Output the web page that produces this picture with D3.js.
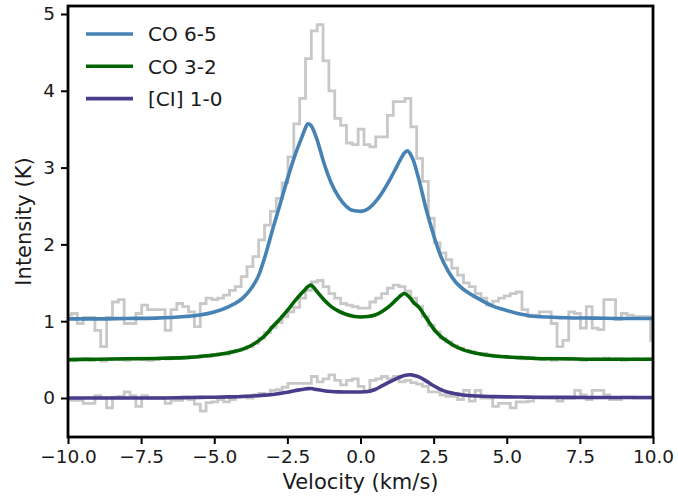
<!DOCTYPE html>
<html>
<head>
<meta charset="utf-8">
<script src="https://cdn.jsdelivr.net/npm/d3@7/dist/d3.min.js"></script>
<style>
  body { margin: 0; background: #fff; }
  text { font-family: "DejaVu Sans", sans-serif; fill: #1a1a1a; }
</style>
</head>
<body>
<svg id="chart" width="678" height="499"></svg>
<script>
// observed spectra, 0.2 km/s channels, first channel centre at -9.98 km/s
const chanStart = -9.98
const chanWidth = 0.2

const co65Obs = [
  1.08,1.10,0.97,1.05,1.05,0.88,0.67,1.05,1.25,1.28,
  0.97,0.97,1.10,1.21,1.15,1.15,1.15,0.88,1.15,1.23,
  1.19,1.12,0.93,1.23,1.30,1.28,1.30,1.34,1.40,1.45,
  1.58,1.71,1.84,2.06,2.25,2.43,2.60,2.80,3.14,3.57,
  3.90,4.42,4.78,4.86,4.39,4.00,3.64,3.55,3.32,3.30,
  3.50,3.30,3.27,3.40,3.40,3.68,3.86,3.86,3.90,3.53,
  3.12,2.82,2.34,2.02,1.89,1.80,1.69,1.60,1.50,1.45,
  1.36,1.30,1.21,1.26,1.30,1.33,1.36,1.38,1.15,1.06,
  1.08,1.12,1.12,0.97,0.67,0.75,1.12,1.10,0.91,1.19,
  0.91,0.89,1.28,1.28,1.02,1.10,1.08,1.06,1.06,1.06,
  0.75
]

const co32Obs = [
  0.50,0.49,0.50,0.51,0.49,0.50,0.48,0.50,0.51,0.50,
  0.49,0.51,0.52,0.50,0.49,0.50,0.52,0.51,0.53,0.52,
  0.52,0.54,0.53,0.55,0.54,0.56,0.58,0.57,0.61,0.62,
  0.64,0.67,0.71,0.78,0.85,0.92,0.98,1.06,1.12,1.18,
  1.30,1.40,1.51,1.53,1.45,1.36,1.30,1.23,1.21,1.19,
  1.17,1.17,1.25,1.30,1.36,1.43,1.47,1.45,1.39,1.30,
  1.19,1.06,0.95,0.86,0.78,0.73,0.68,0.65,0.62,0.60,
  0.58,0.58,0.56,0.55,0.54,0.53,0.53,0.52,0.51,0.53,
  0.51,0.50,0.52,0.49,0.51,0.50,0.52,0.51,0.49,0.50,
  0.51,0.50,0.52,0.50,0.51,0.49,0.50,0.51,0.50,0.51,
  0.50
]

const ciObs = [
  -0.02,-0.03,-0.03,-0.07,-0.07,0.03,0.00,-0.13,0.01,0.02,
  0.08,0.03,-0.11,0.03,0.00,0.00,0.00,-0.07,-0.03,-0.03,
  0.01,-0.02,-0.08,-0.17,-0.06,-0.05,-0.02,-0.05,-0.02,0.02,
  0.03,0.00,0.04,0.06,0.05,0.10,0.11,0.14,0.19,0.19,
  0.19,0.19,0.28,0.21,0.25,0.30,0.23,0.17,0.23,0.25,
  0.15,0.08,0.23,0.25,0.28,0.25,0.28,0.21,0.23,0.20,
  0.18,0.15,0.08,0.08,0.04,0.02,0.02,-0.02,0.10,-0.04,
  0.10,0.00,0.00,-0.11,-0.07,-0.07,-0.13,-0.05,-0.05,-0.04,
  0.00,0.00,0.00,0.00,-0.04,0.00,0.00,0.10,0.04,-0.02,
  0.10,0.10,0.04,-0.02,-0.02,0.01,0.01,0.00,0.00,0.00,
  0.00
]

const fitVel = [-10,-9,-8,-7,-6,-5.5,-5,-4.5,-4,-3.75,-3.5,-3.25,-3,-2.75,-2.5,-2.25,-2,-1.9,-1.8,-1.7,-1.6,-1.5,
  -1.25,-1,-0.75,-0.5,-0.25,0,0.25,0.5,0.75,1,1.25,1.4,1.5,1.6,1.7,1.8,2,2.25,2.5,2.75,
  3,3.25,3.5,4,4.5,5,5.5,6,7,8,9,10]

const co65Fit = [1.03,1.03,1.035,1.04,1.06,1.08,1.12,1.19,1.31,1.42,1.58,1.86,2.20,2.52,2.85,3.15,3.40,3.50,3.57,3.55,3.48,3.38,
  3.06,2.80,2.62,2.50,2.44,2.43,2.46,2.55,2.68,2.84,3.02,3.13,3.19,3.22,3.18,3.10,2.84,2.45,2.12,1.84,
  1.65,1.51,1.42,1.30,1.20,1.14,1.09,1.06,1.045,1.04,1.035,1.035]

const co32Fit = [0.50,0.505,0.51,0.515,0.525,0.54,0.56,0.59,0.64,0.68,0.74,0.82,0.93,1.03,1.14,1.26,1.37,1.41,1.45,1.47,1.44,1.39,
  1.28,1.19,1.13,1.09,1.065,1.055,1.06,1.08,1.13,1.20,1.29,1.34,1.36,1.34,1.30,1.25,1.18,1.04,0.90,0.80,
  0.73,0.67,0.63,0.58,0.55,0.535,0.525,0.515,0.51,0.505,0.505,0.505]

const ciFit = [0,0,0,0,0.005,0.008,0.01,0.014,0.02,0.025,0.03,0.037,0.045,0.06,0.075,0.095,0.11,0.118,0.122,0.123,0.118,0.11,
  0.095,0.085,0.08,0.078,0.077,0.078,0.085,0.11,0.16,0.21,0.255,0.28,0.293,0.30,0.302,0.297,0.275,0.22,0.16,0.11,
  0.075,0.055,0.04,0.025,0.018,0.014,0.012,0.01,0.008,0.007,0.006,0.006]

const lineNames = ['CO 6-5', 'CO 3-2', '[CI] 1-0']
const lineColors = ['#4682b4', '#006400', '#483d8b']

const xTicks = [-10, -7.5, -5, -2.5, 0, 2.5, 5, 7.5, 10]
const yTicks = [0, 1, 2, 3, 4, 5]

const W = 678, H = 499
const m = {top: 6, right: 25, bottom: 62, left: 68}
const iw = W - m.left - m.right
const ih = H - m.top - m.bottom

const svg = d3.select('#chart')
const g = svg.append('g').attr('transform', `translate(${m.left},${m.top})`)

const x = d3.scaleLinear().domain([-10, 10]).range([0, iw])
const y = d3.scaleLinear().domain([-0.508, 5.104]).range([ih, 0])

g.append('clipPath').attr('id', 'plotclip')
  .append('rect').attr('width', iw).attr('height', ih)

const plot = g.append('g').attr('clip-path', 'url(#plotclip)')

const chanVel = co65Obs.map((_, i) => chanStart + i * chanWidth)

const stepLine = d3.line()
  .x((d, i) => x(chanVel[i]))
  .y(d => y(d))
  .curve(d3.curveStep)

const fitLine = d3.line()
  .x((d, i) => x(fitVel[i]))
  .y(d => y(d))
  .curve(d3.curveMonotoneX)

;[co65Obs, co32Obs, ciObs].forEach(s => {
  plot.append('path')
    .attr('d', stepLine(s))
    .attr('fill', 'none')
    .attr('stroke', '#c8c8c8')
    .attr('stroke-width', 2.8)
})

;[co65Fit, co32Fit, ciFit].forEach((s, k) => {
  plot.append('path')
    .attr('d', fitLine(s))
    .attr('fill', 'none')
    .attr('stroke', lineColors[k])
    .attr('stroke-width', 3.6)
    .attr('stroke-linejoin', 'round')
})

// axes
const fmtX = d => d3.format('.1f')(d).replace('-', '\u2212')

const xAxis = g.append('g')
  .attr('transform', `translate(0,${ih})`)
  .call(d3.axisBottom(x).tickValues(xTicks).tickFormat(fmtX).tickSize(7).tickPadding(6))
const yAxis = g.append('g')
  .call(d3.axisLeft(y).tickValues(yTicks).tickFormat(d3.format('d')).tickSize(7).tickPadding(6))

;[xAxis, yAxis].forEach(a => {
  a.select('.domain').remove()
  a.selectAll('.tick line').attr('stroke', '#000').attr('stroke-width', 2)
  a.selectAll('.tick text').style('font-size', '18.5px').attr('fill', '#1a1a1a')
})

g.append('rect')
  .attr('width', iw).attr('height', ih)
  .attr('fill', 'none')
  .attr('stroke', '#000')
  .attr('stroke-width', 2.8)

svg.append('text')
  .attr('x', m.left + iw / 2).attr('y', 489)
  .attr('text-anchor', 'middle')
  .style('font-size', '21px')
  .text('Velocity (km/s)')

svg.append('text')
  .attr('transform', `translate(31,${m.top + ih / 2}) rotate(-90)`)
  .attr('text-anchor', 'middle')
  .style('font-size', '21px')
  .text('Intensity (K)')

// legend
const legend = svg.append('g').attr('transform', 'translate(86,34)')
lineNames.forEach((name, k) => {
  const row = legend.append('g').attr('transform', `translate(0,${k * 32.3})`)
  row.append('line')
    .attr('x1', 0).attr('x2', 47)
    .attr('stroke', lineColors[k])
    .attr('stroke-width', 3.6)
  row.append('text')
    .attr('x', 62).attr('y', 0)
    .attr('dy', '0.36em')
    .style('font-size', '20px')
    .text(name)
})
</script>
</body>
</html>
